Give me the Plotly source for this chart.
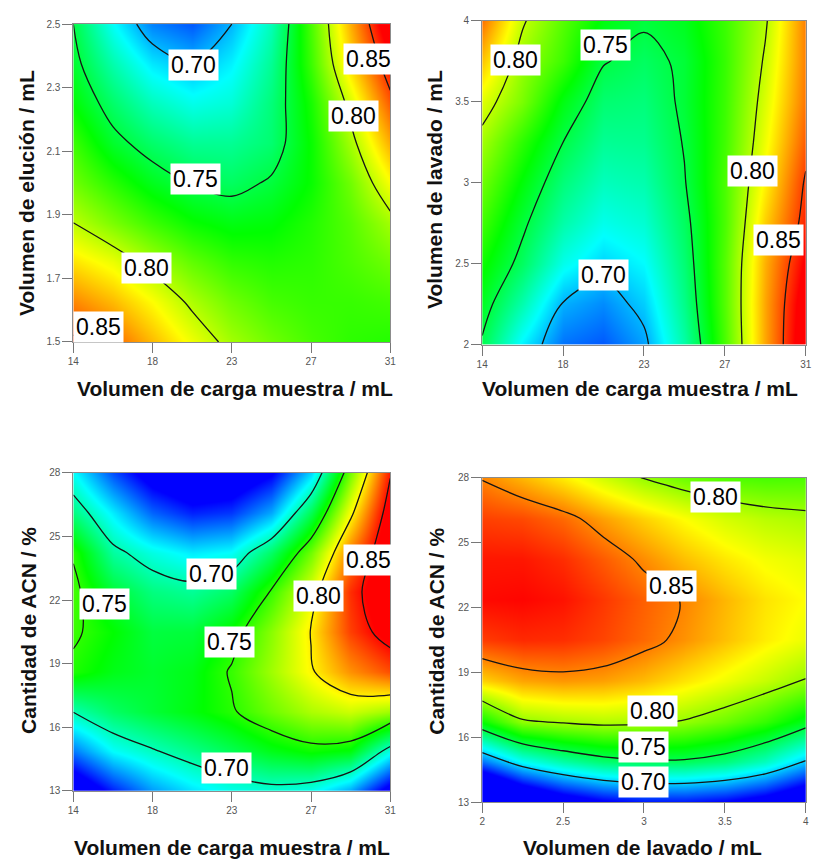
import plotly.graph_objects as go

# ---------------- data ----------------
x_carga = [14, 16.125, 18.25, 20.375, 22.5, 24.625, 26.75, 28.875, 31]
x_lavado = [2, 2.25, 2.5, 2.75, 3, 3.25, 3.5, 3.75, 4]
y_elucion = [1.5, 1.625, 1.75, 1.875, 2.0, 2.125, 2.25, 2.375, 2.5]
y_lavado = [2, 2.25, 2.5, 2.75, 3, 3.25, 3.5, 3.75, 4]
y_acn = [13, 14.875, 16.75, 18.625, 20.5, 22.375, 24.25, 26.125, 28]

# rows: bottom (first y) to top (last y)
z_carga_elucion = [
    [0.853, 0.842, 0.826, 0.810, 0.795, 0.785, 0.777, 0.772, 0.770],
    [0.836, 0.826, 0.813, 0.797, 0.785, 0.777, 0.774, 0.774, 0.776],
    [0.818, 0.809, 0.795, 0.782, 0.773, 0.770, 0.772, 0.778, 0.785],
    [0.800, 0.787, 0.775, 0.765, 0.760, 0.762, 0.770, 0.780, 0.795],
    [0.785, 0.771, 0.758, 0.749, 0.745, 0.752, 0.765, 0.785, 0.812],
    [0.775, 0.755, 0.743, 0.735, 0.735, 0.742, 0.765, 0.795, 0.829],
    [0.763, 0.743, 0.727, 0.718, 0.722, 0.740, 0.768, 0.805, 0.845],
    [0.755, 0.730, 0.710, 0.701, 0.712, 0.735, 0.775, 0.820, 0.860],
    [0.750, 0.715, 0.690, 0.682, 0.700, 0.728, 0.778, 0.828, 0.875],
]
z_carga_lavado = [
    [0.748, 0.712, 0.687, 0.682, 0.696, 0.731, 0.778, 0.830, 0.875],
    [0.757, 0.730, 0.699, 0.692, 0.705, 0.737, 0.780, 0.830, 0.872],
    [0.766, 0.745, 0.718, 0.706, 0.714, 0.741, 0.780, 0.828, 0.865],
    [0.776, 0.753, 0.731, 0.718, 0.723, 0.745, 0.778, 0.822, 0.856],
    [0.785, 0.762, 0.740, 0.727, 0.730, 0.749, 0.778, 0.815, 0.852],
    [0.795, 0.772, 0.750, 0.735, 0.736, 0.751, 0.776, 0.810, 0.845],
    [0.807, 0.787, 0.760, 0.742, 0.740, 0.753, 0.775, 0.806, 0.840],
    [0.824, 0.793, 0.775, 0.751, 0.745, 0.753, 0.774, 0.802, 0.838],
    [0.840, 0.802, 0.780, 0.761, 0.752, 0.758, 0.775, 0.798, 0.838],
]
z_carga_acn = [
    [0.600, 0.635, 0.662, 0.678, 0.688, 0.693, 0.688, 0.665, 0.615],
    [0.655, 0.685, 0.698, 0.710, 0.722, 0.735, 0.743, 0.738, 0.690],
    [0.701, 0.718, 0.728, 0.737, 0.748, 0.764, 0.778, 0.785, 0.775],
    [0.746, 0.735, 0.730, 0.735, 0.752, 0.775, 0.798, 0.820, 0.835],
    [0.753, 0.740, 0.726, 0.727, 0.742, 0.770, 0.801, 0.838, 0.860],
    [0.755, 0.728, 0.712, 0.707, 0.718, 0.752, 0.790, 0.842, 0.870],
    [0.748, 0.705, 0.690, 0.680, 0.685, 0.718, 0.765, 0.825, 0.870],
    [0.712, 0.680, 0.650, 0.635, 0.640, 0.665, 0.722, 0.795, 0.862],
    [0.685, 0.645, 0.615, 0.600, 0.605, 0.625, 0.675, 0.765, 0.848],
]
z_lavado_acn = [
    [0.570, 0.610, 0.635, 0.650, 0.658, 0.658, 0.652, 0.640, 0.620],
    [0.680, 0.712, 0.730, 0.742, 0.747, 0.747, 0.740, 0.725, 0.698],
    [0.768, 0.798, 0.803, 0.806, 0.804, 0.799, 0.790, 0.778, 0.760],
    [0.832, 0.842, 0.845, 0.843, 0.837, 0.828, 0.819, 0.810, 0.799],
    [0.865, 0.869, 0.868, 0.863, 0.855, 0.846, 0.836, 0.826, 0.818],
    [0.876, 0.877, 0.874, 0.866, 0.857, 0.849, 0.838, 0.828, 0.822],
    [0.873, 0.873, 0.868, 0.858, 0.847, 0.836, 0.827, 0.820, 0.816],
    [0.864, 0.862, 0.855, 0.843, 0.832, 0.822, 0.813, 0.807, 0.804],
    [0.849, 0.838, 0.826, 0.812, 0.799, 0.790, 0.784, 0.782, 0.783],
]

contour_levels = [0.70, 0.75, 0.80, 0.85]

# contour label texts and where they sit
labels_p1 = [("0.70", 20.43, 2.37), ("0.85", 29.84, 2.39), ("0.80", 29.04, 2.21),
             ("0.75", 20.55, 2.014), ("0.80", 17.95, 1.732), ("0.85", 15.36, 1.546)]
labels_p2 = [("0.80", 15.74, 3.756), ("0.75", 20.46, 3.85), ("0.80", 28.22, 3.074),
             ("0.85", 29.57, 2.648), ("0.70", 20.35, 2.428)]
labels_p3 = [("0.70", 21.43, 23.23), ("0.75", 15.68, 21.79), ("0.75", 22.38, 20.02),
             ("0.80", 27.16, 22.2), ("0.85", 29.84, 23.88), ("0.70", 22.22, 14.07)]
labels_p4 = [("0.80", 3.44, 27.10), ("0.85", 3.17, 23.0), ("0.80", 3.05, 17.22),
             ("0.75", 3.0, 15.54), ("0.70", 3.0, 13.94)]

carga_ticks = [14, 18.25, 22.5, 26.75, 31]
carga_ticktext = ["14", "18", "23", "27", "31"]
lavado_ticks = [2, 2.5, 3, 3.5, 4]
lavado_ticktext = ["2", "2.5", "3", "3.5", "4"]
elucion_ticks = [1.5, 1.7, 1.9, 2.1, 2.3, 2.5]
elucion_ticktext = ["1.5", "1.7", "1.9", "2.1", "2.3", "2.5"]
acn_ticks = [13, 16, 19, 22, 25, 28]
acn_ticktext = ["13", "16", "19", "22", "25", "28"]

# ---------------- styling ----------------
W, H = 815, 865
FONT = "Liberation Sans, Arial, sans-serif"
scale = [[0.0, "rgb(0,0,255)"], [0.25, "rgb(0,255,255)"], [0.5, "rgb(0,255,0)"],
         [0.75, "rgb(255,255,0)"], [1.0, "rgb(255,0,0)"]]

panels = [
    dict(x=x_carga, y=y_elucion, z=z_carga_elucion, zr=(0.665, 0.862), labels=labels_p1,
         xr=(14, 31), yr=(1.5, 2.5), xt=(carga_ticks, carga_ticktext), yt=(elucion_ticks, elucion_ticktext),
         dom_x=(68.3, 390.0), dom_y=(18.3, 340.7),
         xtitle="Volumen de carga muestra / mL", ytitle="Volumen de elución / mL",
         xtpos=(232, 388), ytpos=(21, 190)),
    dict(x=x_carga, y=y_lavado, z=z_carga_lavado, zr=(0.665, 0.862), labels=labels_p2,
         xr=(14, 31), yr=(2, 4), xt=(carga_ticks, carga_ticktext), yt=(lavado_ticks, lavado_ticktext),
         dom_x=(483.3, 811.7), dom_y=(15.0, 343.3),
         xtitle="Volumen de carga muestra / mL", ytitle="Volumen de lavado / mL",
         xtpos=(643, 388), ytpos=(435, 186)),
    dict(x=x_carga, y=y_acn, z=z_carga_acn, zr=(0.628, 0.852), labels=labels_p3,
         xr=(14, 31), yr=(13, 28), xt=(carga_ticks, carga_ticktext), yt=(acn_ticks, acn_ticktext),
         dom_x=(68.3, 390.0), dom_y=(473.3, 796.0),
         xtitle="Volumen de carga muestra / mL", ytitle="Cantidad de ACN / %",
         xtpos=(229, 853), ytpos=(23, 633)),
    dict(x=x_lavado, y=y_acn, z=z_lavado_acn, zr=(0.655, 0.878), labels=labels_p4,
         xr=(2, 4), yr=(13, 28), xt=(lavado_ticks, lavado_ticktext), yt=(acn_ticks, acn_ticktext),
         dom_x=(483.3, 811.7), dom_y=(478.3, 807.7),
         xtitle="Volumen de lavado / mL", ytitle="Cantidad de ACN / %",
         xtpos=(646, 853), ytpos=(437, 634)),
]

fig = go.Figure()
annotations = []
layout_axes = {}

for i, p in enumerate(panels, start=1):
    xa = "x" if i == 1 else f"x{i}"
    ya = "y" if i == 1 else f"y{i}"
    fig.add_trace(go.Heatmap(
        x=p["x"], y=p["y"], z=p["z"], zmin=p["zr"][0], zmax=p["zr"][1],
        colorscale=scale, zsmooth="best", showscale=False, hoverinfo="skip",
        xaxis=xa, yaxis=ya))
    fig.add_trace(go.Contour(
        x=p["x"], y=p["y"], z=p["z"], showscale=False, hoverinfo="skip",
        contours=dict(start=contour_levels[0], end=contour_levels[-1], size=0.05,
                      coloring="none", showlabels=False),
        line=dict(color="#151515", width=1.3, smoothing=1.0),
        xaxis=xa, yaxis=ya))

    axis_common = dict(showgrid=False, zeroline=False, showline=True, linecolor="#8c8c8c",
                       linewidth=1, mirror=True, ticks="outside", ticklen=10, tickwidth=1,
                       tickcolor="#777777", tickfont=dict(family=FONT, size=10, color="#555555"))
    layout_axes["xaxis" if i == 1 else f"xaxis{i}"] = dict(
        axis_common, domain=[p["dom_x"][0] / W, p["dom_x"][1] / W], range=list(p["xr"]),
        tickmode="array", tickvals=p["xt"][0], ticktext=p["xt"][1], anchor=ya)
    layout_axes["yaxis" if i == 1 else f"yaxis{i}"] = dict(
        axis_common, domain=[1 - p["dom_y"][1] / H, 1 - p["dom_y"][0] / H], range=list(p["yr"]),
        tickmode="array", tickvals=p["yt"][0], ticktext=p["yt"][1], anchor=xa)

    for txt, lx, ly in p["labels"]:
        annotations.append(dict(text=txt, x=lx, y=ly, xref=xa, yref=ya, showarrow=False,
                                font=dict(family=FONT, size=23, color="black"),
                                bgcolor="white", borderpad=2))
    annotations.append(dict(text=f"<b>{p['xtitle']}</b>", x=p["xtpos"][0] / W, y=1 - p["xtpos"][1] / H,
                            xref="paper", yref="paper", showarrow=False, xanchor="center", yanchor="middle",
                            font=dict(family=FONT, size=21, color="#111111")))
    annotations.append(dict(text=f"<b>{p['ytitle']}</b>", x=p["ytpos"][0] / W, y=1 - p["ytpos"][1] / H,
                            xref="paper", yref="paper", showarrow=False, xanchor="center", yanchor="middle",
                            textangle=-90, font=dict(family=FONT, size=21, color="#111111")))

fig.update_layout(width=W, height=H, margin=dict(l=0, r=0, t=0, b=0),
                  paper_bgcolor="white", plot_bgcolor="white", showlegend=False,
                  annotations=annotations, **layout_axes)

fig.write_html("out.html")
